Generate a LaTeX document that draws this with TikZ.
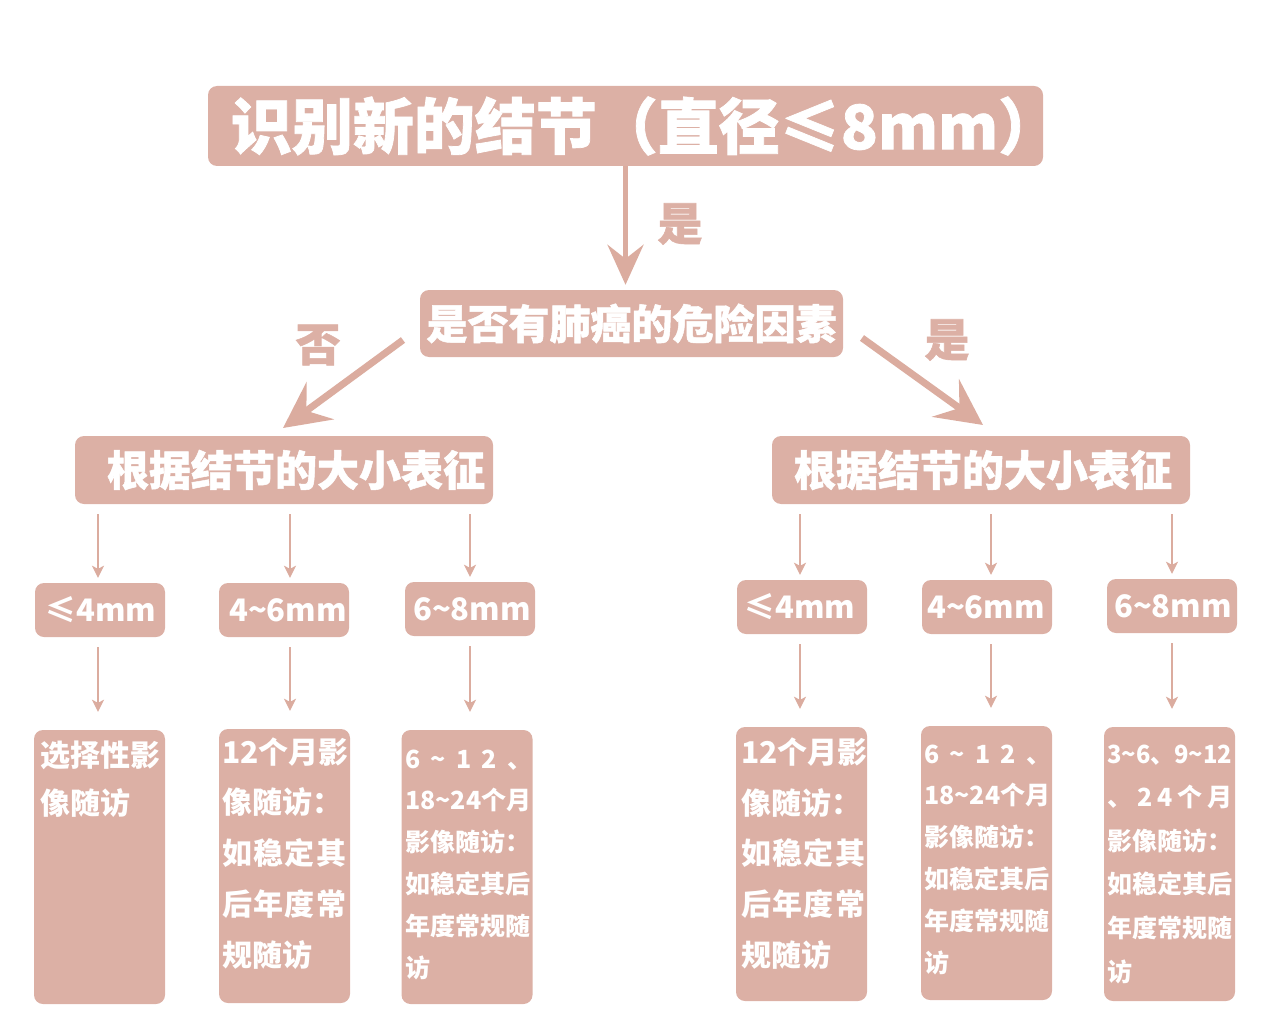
\documentclass[tikz,border=0pt]{standalone}
\usepackage{fontspec}
\setmainfont{Noto Sans CJK SC}
\newfontfamily\heavyfont{Noto Sans CJK SC}[BoldFeatures={FakeBold=1.2}]
\usetikzlibrary{arrows.meta}
\definecolor{boxc}{HTML}{DCB0A5}
\definecolor{arrc}{HTML}{DBAC9F}
\newcommand{\wv}{\textasciitilde}
\tikzset{
  box/.style={fill=boxc, draw=none, rounded corners=9pt, inner sep=0pt},
  wt/.style={text=white, inner sep=0pt},
  fsT/.style={font=\fontsize{61}{61}\selectfont\heavyfont\bfseries},
  fsQ/.style={font=\fontsize{41}{41}\selectfont\heavyfont\bfseries},
  fsL/.style={font=\fontsize{42}{42}\selectfont\heavyfont\bfseries},
  fsS/.style={font=\fontsize{31}{31}\selectfont\bfseries},
  fsB/.style={font=\fontsize{30}{30}\selectfont\bfseries, anchor=base west},
  fsC/.style={font=\fontsize{25}{25}\selectfont\bfseries, anchor=base west},
  lab/.style={text=boxc, inner sep=0pt, font=\fontsize{45}{45}\selectfont\heavyfont\bfseries},
  bigarr/.style={draw=arrc, line width=5pt, -{Stealth[length=40pt,width=36pt,inset=14pt]}},
  diagarr/.style={draw=arrc, line width=7pt, -{Stealth[length=46pt,width=46pt,inset=17pt]}},
  smallarr/.style={draw=arrc, line width=2pt, -{Stealth[length=12pt,width=12pt,inset=3pt]}},
}
\begin{document}
\begin{tikzpicture}[x=1pt,y=-1pt]
\useasboundingbox (0,0) rectangle (1268,1027);
% top level
\node[box, minimum width=835pt, minimum height=80pt] (title) at (625.5,126) {};
\node[wt, fsT] (titlet) at (645,126) {识别新的结节（直径≤8mm）};
\node[box, minimum width=423pt, minimum height=67pt] (q) at (631.5,323.5) {};
\node[wt, fsQ] (qt) at (631.5,323.5) {是否有肺癌的危险因素};
\node[box, minimum width=418pt, minimum height=68pt] (L) at (284,470) {};
\node[wt, fsL] (Lt) at (296,470) {根据结节的大小表征};
\node[box, minimum width=418pt, minimum height=68pt] (R) at (981,470) {};
\node[wt, fsL] (Rt) at (983,470) {根据结节的大小表征};
% labels
\node[lab] (yes1) at (680,224) {是};
\node[lab] (no1) at (318,345) {否};
\node[lab] (yes2) at (947,340) {是};
% main arrows
\draw[bigarr, shorten >=5pt] (title.south) -- (title.south |- q.north);
\coordinate (qa) at (403,340);
\coordinate (la) at (283,428);
\coordinate (qb) at (862,338);
\coordinate (rb) at (983,425);
\draw[diagarr] (qa) -- (la);
\draw[diagarr] (qb) -- (rb);
% size boxes
\foreach \n/\x/\y/\tx/\t in {s1/100/610/101/≤4mm, s2/284/610/288/4\wv 6mm, s3/470/609/472/6\wv 8mm,
                         s4/802/607/800/≤4mm, s5/987/607/986/4\wv 6mm, s6/1172/606/1173/6\wv 8mm}{
  \node[box, minimum width=130pt, minimum height=54pt] (\n) at (\x,\y) {};
  \node[wt, fsS] (\n t) at (\tx,\y) {\t};
}
% bottom boxes
\foreach \n/\x/\y in {b1/99.5/867, b2/284.5/866, b3/467/867, b4/801.5/864, b5/986.5/863, b6/1169.5/864}{
  \node[box, minimum width=131pt, minimum height=274pt] (\n) at (\x,\y) {};
}
% small arrows
\foreach \s/\p/\o in {s1/L/-2, s2/L/6, s3/L/0, s4/R/-2, s5/R/4, s6/R/0}{
  \draw[smallarr, shorten <=10pt, shorten >=5pt] ([xshift=\o pt]\p.south -| \s.north) -- ([xshift=\o pt]\s.north);
}
\foreach \s/\b/\o in {s1/b1/-2, s2/b2/6, s3/b3/0, s4/b4/-2, s5/b5/4, s6/b6/0}{
  \draw[smallarr, shorten <=10pt, shorten >=18pt] ([xshift=\o pt]\s.south) -- ([xshift=\o pt]\s.south |- \b.north);
}
% bottom texts
\foreach \t [count=\i] in {选择性影, 像随访}
  \node[wt, fsB] (b1l\i) at (40, {766+(\i-1)*48}) {\t};
\foreach \t [count=\i] in {{\makebox[124pt][s]{1\hfill 2\hfill 个\hfill 月\hfill 影}}, {\makebox[120pt][s]{像\hfill 随\hfill 访\hfill ：}}, {\makebox[124pt][s]{如\hfill 稳\hfill 定\hfill 其}}, {\makebox[124pt][s]{后\hfill 年\hfill 度\hfill 常}}, 规随访}{
  \node[wt, fsB] (b2l\i) at (222, {763+(\i-1)*50.8}) {\t};
  \node[wt, fsB] (b4l\i) at (741, {763.5+(\i-1)*50.7}) {\t};
}
\foreach \t [count=\i] in {{\makebox[127pt][s]{6\hfill\wv\hfill 1\hfill 2\hfill 、}}, 18\wv 24个月, 影像随访：, 如稳定其后, 年度常规随, 访}{
  \node[wt, fsC] (b3l\i) at (405, {768+(\i-1)*41.8}) {\t};
  \node[wt, fsC] (b5l\i) at (924, {763+(\i-1)*41.8}) {\t};
}
\foreach \t [count=\i] in {{\scalebox{0.95}[1]{3\wv 6、9\wv 12}}, {\makebox[125pt][s]{、\hfill 2\hfill 4\hfill 个\hfill 月}}, 影像随访：, 如稳定其后, 年度常规随, 访}
  \node[wt, fsC] (b6l\i) at (1107, {763+(\i-1)*43.6}) {\t};
\end{tikzpicture}
\end{document}
